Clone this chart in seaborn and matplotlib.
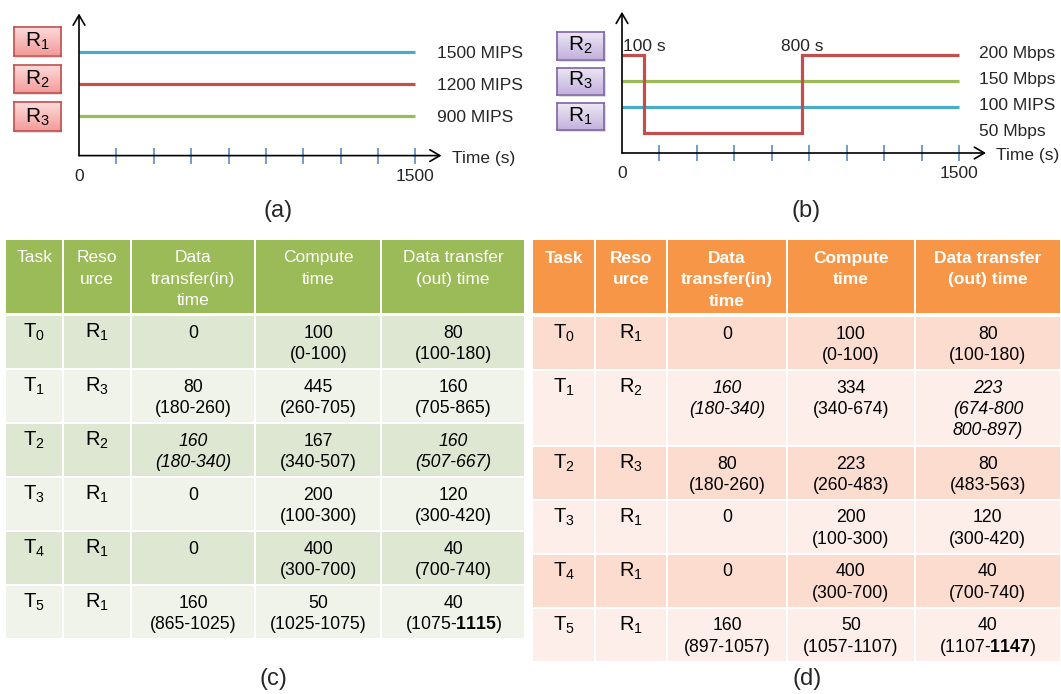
import numpy as np
import pandas as pd
import matplotlib
matplotlib.use("Agg")
import matplotlib.pyplot as plt
import seaborn as sns
from matplotlib.colors import LinearSegmentedColormap
from matplotlib.patches import Rectangle

# ---------------- Panel (a): processing speed of each resource ----------------
speed_resources = ["R1", "R2", "R3"]
speed_mips = [1500, 1200, 900]
speed_labels = ["1500 MIPS", "1200 MIPS", "900 MIPS"]
flat_time = [0, 1500]

# ---------------- Panel (b): link bandwidth over time ----------------
r2_bw_time = [0, 100, 100, 800, 800, 1500]
r2_bw_mbps = [200, 200, 50, 50, 200, 200]
r3_bw_mbps = [150, 150]
r1_rate = [100, 100]
bw_side_values = [200, 150, 100, 50]
bw_side_labels = ["200 Mbps", "150 Mbps", "100 MIPS", "50 Mbps"]
bw_change_times = [100, 800]
bw_change_labels = ["100 s", "800 s"]

box_order_a = ["R1", "R2", "R3"]
box_order_b = ["R2", "R3", "R1"]

time_axis_end = 1500
time_tick_count = 9

# ---------------- Panels (c) and (d): schedules ----------------
header_cols = ["Task", "Reso\nurce", "Data\ntransfer(in)\ntime",
               "Compute\ntime", "Data transfer\n(out) time"]
task_ids = [0, 1, 2, 3, 4, 5]

c_resource_ids = [1, 3, 2, 1, 1, 1]
c_transfer_in = ["0", "80\n(180-260)", "160\n(180-340)", "0", "0",
                 "160\n(865-1025)"]
c_compute = ["100\n(0-100)", "445\n(260-705)", "167\n(340-507)",
             "200\n(100-300)", "400\n(300-700)", "50\n(1025-1075)"]
c_transfer_out = ["80\n(100-180)", "160\n(705-865)", "160\n(507-667)",
                  "120\n(300-420)", "40\n(700-740)",
                  "40\n(1075-$\\mathbf{1115}$)"]
c_italic = [(2, 2), (2, 4)]

d_resource_ids = [1, 2, 3, 1, 1, 1]
d_transfer_in = ["0", "160\n(180-340)", "80\n(180-260)", "0", "0",
                 "160\n(897-1057)"]
d_compute = ["100\n(0-100)", "334\n(340-674)", "223\n(260-483)",
             "200\n(100-300)", "400\n(300-700)", "50\n(1057-1107)"]
d_transfer_out = ["80\n(100-180)", "223\n(674-800\n800-897)", "80\n(483-563)",
                  "120\n(300-420)", "40\n(700-740)",
                  "40\n(1107-$\\mathbf{1147}$)"]
d_italic = [(1, 2), (1, 4)]

# ---------------- style ----------------
sns.set_theme(style="white")
plt.rcParams["font.family"] = ["Liberation Sans", "DejaVu Sans"]
plt.rcParams["mathtext.fontset"] = "custom"
plt.rcParams["mathtext.rm"] = "Liberation Sans"
plt.rcParams["mathtext.it"] = "Liberation Sans:italic"
plt.rcParams["mathtext.bf"] = "Liberation Sans:bold"
plt.rcParams["mathtext.default"] = "regular"

BLUE, RED, GREEN = "#4BACC6", "#C0504D", "#9BBB59"
TICK_BLUE = "#4F81BD"

W, H = 1061, 694
fig = plt.figure(figsize=(W / 100, H / 100), dpi=100)


def axes_px(x0, y0, x1, y1):
    """Axes placed by pixel box (origin top-left)."""
    return fig.add_axes([x0 / W, 1 - y1 / H, (x1 - x0) / W, (y1 - y0) / H])


def fig_text(x, y, s, **kw):
    fig.text(x / W, 1 - y / H, s, **kw)


def draw_timeline(ax, df, palette, hue_order, xmax, ylim):
    sns.lineplot(data=df, x="time", y="value", hue="series",
                 hue_order=hue_order, palette=palette, estimator=None,
                 sort=False, lw=2.3, legend=False, ax=ax,
                 solid_joinstyle="miter", solid_capstyle="butt")
    ax.set_xlim(0, xmax)
    ax.set_ylim(*ylim)
    ax.set_facecolor("none")
    for s in ax.spines.values():
        s.set_visible(False)
    ticks = np.linspace(0, time_axis_end, time_tick_count + 1)[1:]
    ax.set_xticks(ticks)
    ax.set_yticks([])
    ax.tick_params(axis="x", direction="inout", length=11, width=1.1,
                   color=TICK_BLUE, bottom=True, labelbottom=False)
    ax.set_xlabel("")
    ax.set_ylabel("")
    arrow = dict(arrowstyle="->,head_length=0.6,head_width=0.35", lw=1.2,
                 color="black", shrinkA=0, shrinkB=0, mutation_scale=12)
    ax.annotate("", xy=(1, 0), xytext=(0, 0), xycoords="axes fraction",
                arrowprops=arrow, annotation_clip=False)
    ax.annotate("", xy=(0, 1), xytext=(0, 0), xycoords="axes fraction",
                arrowprops=arrow, annotation_clip=False)
    for t in (0, time_axis_end):
        ax.annotate(str(t), xy=(t, 0), xycoords=("data", "axes fraction"),
                    xytext=(0, -25), textcoords="offset pixels",
                    ha="center", va="baseline", fontsize=12.5,
                    annotation_clip=False)
    ax.annotate("Time (s)", xy=(1, 0), xycoords="axes fraction",
                xytext=(10, -7), textcoords="offset pixels",
                ha="left", va="baseline", fontsize=12.5,
                annotation_clip=False)


def label_box(x0, y0, x1, y1, text, top, bottom, edge):
    sh = axes_px(x0 + 1.5, y0 + 2, x1 + 1.5, y1 + 2)
    sh.set_facecolor((0, 0, 0, 0.13))
    sh.set_xticks([])
    sh.set_yticks([])
    for s in sh.spines.values():
        s.set_visible(False)
    ax = axes_px(x0, y0, x1, y1)
    grad = np.linspace(0, 1, 64).reshape(-1, 1)
    cmap = LinearSegmentedColormap.from_list("box", [top, bottom])
    ax.imshow(grad, aspect="auto", cmap=cmap, extent=(0, 1, 0, 1),
              origin="upper")
    ax.set_xticks([])
    ax.set_yticks([])
    for s in ax.spines.values():
        s.set_visible(True)
        s.set_color(edge)
        s.set_linewidth(1.2)
    num = text[1:]
    ax.text(0.5, 8.5 / (y1 - y0), f"R$_{num}$", transform=ax.transAxes,
            ha="center", va="baseline", fontsize=15, color="black")


# ---------------- panel (a) ----------------
df_a = pd.DataFrame({
    "time": flat_time * len(speed_resources),
    "value": [v for v in speed_mips for _ in flat_time],
    "series": [r for r in speed_resources for _ in flat_time],
})
ax_a = axes_px(79, 13.5, 441.5, 155.6)
draw_timeline(ax_a, df_a, {"R1": BLUE, "R2": RED, "R3": GREEN},
              speed_resources, 1616, (525.4, 1859.6))
for v, lab in zip(speed_mips, speed_labels):
    ax_a.annotate(lab, xy=(time_axis_end, v), xytext=(22, -6.5),
                  textcoords="offset pixels", ha="left", va="baseline",
                  fontsize=12.5, annotation_clip=False)

box_rows_a = [(26.5, 55.5), (64.5, 93.0), (102.0, 131.0)]
for name, (y0, y1) in zip(box_order_a, box_rows_a):
    label_box(13.5, y0, 60.5, y1, name, "#FDDCDC", "#F29C9A", RED)

# ---------------- panel (b) ----------------
df_b = pd.concat([
    pd.DataFrame({"time": flat_time, "value": r1_rate, "series": "R1"}),
    pd.DataFrame({"time": flat_time, "value": r3_bw_mbps, "series": "R3"}),
    pd.DataFrame({"time": r2_bw_time, "value": r2_bw_mbps, "series": "R2"}),
], ignore_index=True)
ax_b = axes_px(622, 11.8, 986, 153)
draw_timeline(ax_b, df_b, {"R1": BLUE, "R2": RED, "R3": GREEN},
              ["R1", "R3", "R2"], 1618, (11.5, 283))
for v, lab in zip(bw_side_values, bw_side_labels):
    ax_b.annotate(lab, xy=(time_axis_end, v), xytext=(20, -3),
                  textcoords="offset pixels", ha="left", va="baseline",
                  fontsize=12.5, annotation_clip=False)
for t, lab in zip(bw_change_times, bw_change_labels):
    ax_b.annotate(lab, xy=(t, max(r2_bw_mbps)), xytext=(0, 4),
                  textcoords="offset pixels", ha="center", va="baseline",
                  fontsize=12.5, annotation_clip=False)

box_rows_b = [(32.0, 59.5), (68.0, 94.5), (103.0, 130.0)]
for name, (y0, y1) in zip(box_order_b, box_rows_b):
    label_box(557, y0, 604, y1, name, "#EEE8F6", "#C3B1DC", "#8064A2")


# ---------------- tables (c) and (d) ----------------
def draw_table(col_edges, top, res_ids, cols, italic_cells, header_color,
               bands, header_weight):
    header_h, first_gap, gap = 73.0, 3.5, 2.0
    n_lines = [max(2, *(c[i].count("\n") + 1 for c in cols))
               for i in range(len(task_ids))]
    row_h = [52.0 + 22.0 * (n - 2) for n in n_lines]
    bottom = top + header_h + first_gap + sum(row_h) + gap * (len(row_h) - 1)
    x0, x1 = col_edges[0], col_edges[-1]
    ax = axes_px(x0, top, x1, bottom)
    ax.set_xlim(x0, x1)
    ax.set_ylim(bottom, top)
    ax.axis("off")
    ncol = len(col_edges) - 1

    def cell_x(i):
        left = col_edges[i] + (1 if i > 0 else 0)
        right = col_edges[i + 1] - (1 if i < ncol - 1 else 0)
        return left, right

    # header row
    for i in range(ncol):
        l, r = cell_x(i)
        ax.add_patch(Rectangle((l, top), r - l, header_h, facecolor=header_color,
                               lw=0))
        for k, line in enumerate(header_cols[i].split("\n")):
            ax.text((l + r) / 2, top + 22.5 + 21.5 * k, line, ha="center",
                    va="baseline", color="white", fontsize=12.5,
                    fontweight=header_weight)

    # body rows
    y = top + header_h + first_gap
    for ri, t in enumerate(task_ids):
        h = row_h[ri]
        color = bands[ri % 2]
        entries = [f"T$_{t}$", f"R$_{res_ids[ri]}$"] + [c[ri] for c in cols]
        for i in range(ncol):
            l, r = cell_x(i)
            ax.add_patch(Rectangle((l, y), r - l, h, facecolor=color, lw=0))
            if i < 2:
                ax.text((l + r) / 2, y + 22, entries[i], ha="center",
                        va="baseline", fontsize=14.5, color="black")
            else:
                style = "italic" if (ri, i) in italic_cells else "normal"
                for k, line in enumerate(entries[i].split("\n")):
                    ax.text((l + r) / 2, y + 22 + 21 * k, line, ha="center",
                            va="baseline", fontsize=12.7, color="black",
                            fontstyle=style)
        y += h + gap


draw_table([6, 63.3, 131, 255.4, 381.3, 524], 239.5, c_resource_ids,
           [c_transfer_in, c_compute, c_transfer_out], c_italic,
           "#9BBB59", ["#DEE7D1", "#EFF3EA"], "normal")
draw_table([533.4, 595.3, 667, 787, 914.6, 1060], 240, d_resource_ids,
           [d_transfer_in, d_compute, d_transfer_out], d_italic,
           "#F79646", ["#FCDCCF", "#FDEEE9"], "bold")

# ---------------- panel captions ----------------
for (x, y), cap in zip([(278, 211), (806, 211), (273, 679), (807, 679)],
                       ["(a)", "(b)", "(c)", "(d)"]):
    fig_text(x, y, cap, ha="center", va="center", fontsize=17)

fig.savefig("out.png", dpi=100)
